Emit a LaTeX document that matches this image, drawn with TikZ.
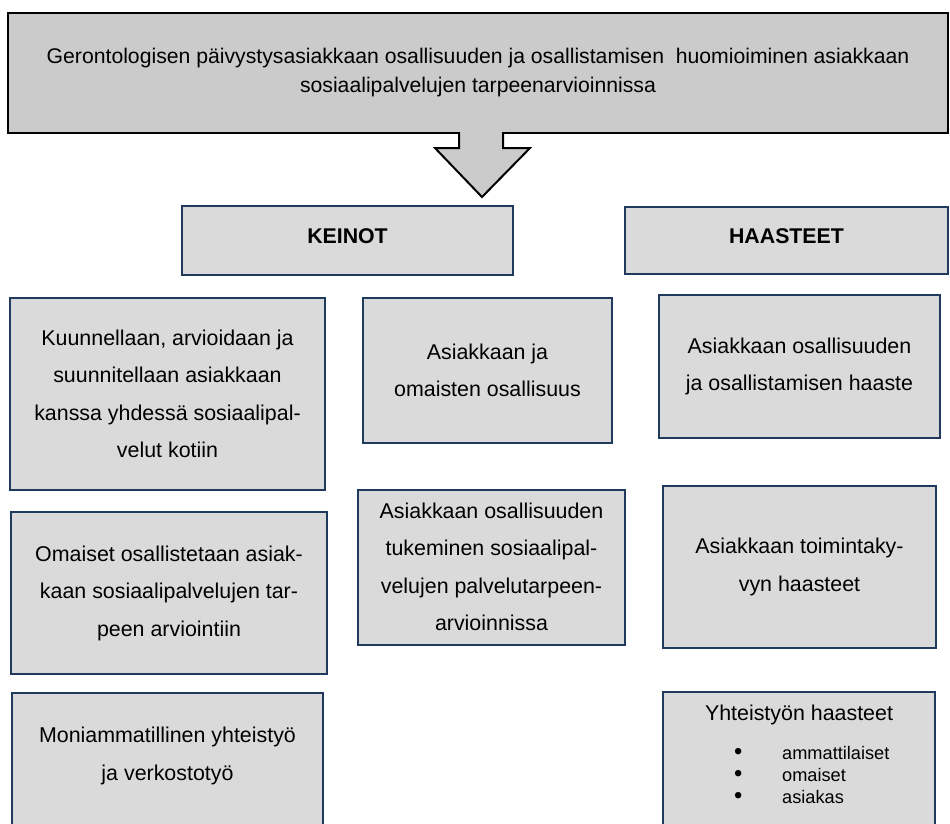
\documentclass[tikz,border=0pt]{standalone}
\usepackage{fontspec}
\setmainfont{Liberation Sans}
\definecolor{topgray}{HTML}{CBCBCB}
\definecolor{boxgray}{HTML}{DADADA}
\definecolor{navy}{HTML}{1F3A5C}
\begin{document}
\begin{tikzpicture}[x=1pt,y=-1pt,
  box/.style={draw=navy, line width=2pt, fill=boxgray, align=center, inner sep=0pt,
    font=\fontsize{21.4}{37.5}\selectfont},
  headbox/.style={box, font=\fontsize{21.3}{24}\selectfont\bfseries, text depth=9pt},
  txt/.style={align=center, inner sep=0pt, font=\fontsize{21.4}{37.5}\selectfont},
  topbox/.style={draw=black, line width=2.2pt, fill=topgray, align=center, inner sep=0pt,
    font=\fontsize{21.2}{29}\selectfont}]
\useasboundingbox (0,0) rectangle (950,823);
\fill[white] (0,0) rectangle (950,823);

% top box
\node[topbox, minimum width=940, minimum height=120] (top) at (478,73)
  {Gerontologisen päivystysasiakkaan osallisuuden ja osallistamisen\ \ huomioiminen asiakkaan\\
   sosiaalipalvelujen tarpeenarvioinnissa};

% block arrow
\fill[topgray] (459,130) -- (459,148) -- (435,148) -- (482,197) -- (530,148) -- (503,148) -- (503,130) -- cycle;
\draw[black, line width=2pt, line join=miter] (459,132) -- (459,148) -- (435,148) -- (482,197) -- (530,148) -- (503,148) -- (503,132);

% headers
\node[headbox, minimum width=331, minimum height=69] (keinot) at (347.5,240.5) {KEINOT};
\node[headbox, minimum width=323, minimum height=67] (haasteet) at (786.5,240.5) {HAASTEET};

% left column
\node[box, minimum width=315, minimum height=192] (k1) at (167.5,394)
  {Kuunnellaan, arvioidaan ja\\ suunnitellaan asiakkaan\\ kanssa yhdessä sosiaalipal-\\ velut kotiin};
\node[box, minimum width=316, minimum height=162] (k2) at (169,593)
  {Omaiset osallistetaan asiak-\\ kaan sosiaalipalvelujen tar-\\ peen arviointiin};

% middle column
\node[box, minimum width=249, minimum height=145] (m1) at (487.5,370.5)
  {Asiakkaan ja\\ omaisten osallisuus};
\node[box, minimum width=267, minimum height=155] (m2) at (491.5,567)
  {Asiakkaan osallisuuden\\ tukeminen sosiaalipal-\\ velujen palvelutarpeen-\\ arvioinnissa};

% right column
\node[box, minimum width=281, minimum height=143] (r1) at (799.5,366.5)
  {Asiakkaan osallisuuden\\ ja osallistamisen haaste};
\node[box, minimum width=273, minimum height=162] (r2) at (799.5,567)
  {Asiakkaan toimintaky-\\ vyn haasteet};

% bottom boxes (cut by the page edge)
\begin{scope}
\clip (0,0) rectangle (950,823);
\node[box, minimum width=311, minimum height=147] (k3) at (167.5,766.5) {};
\node[box, minimum width=272, minimum height=148] (r3) at (799,766) {};
\end{scope}
\node[txt] (k3t) at (167.5,756) {Moniammatillinen yhteistyö\\ ja verkostotyö};
\node[txt] (r3t) at (799,715) {Yhteistyön haasteet};
\node[align=left, inner sep=0pt, anchor=west, font=\fontsize{18.2}{22}\selectfont] (r3l) at (734,775)
  {\makebox[48pt][l]{\scalebox{1.3}{\textbullet}}ammattilaiset\\
   \makebox[48pt][l]{\scalebox{1.3}{\textbullet}}omaiset\\
   \makebox[48pt][l]{\scalebox{1.3}{\textbullet}}asiakas};
\end{tikzpicture}
\end{document}
